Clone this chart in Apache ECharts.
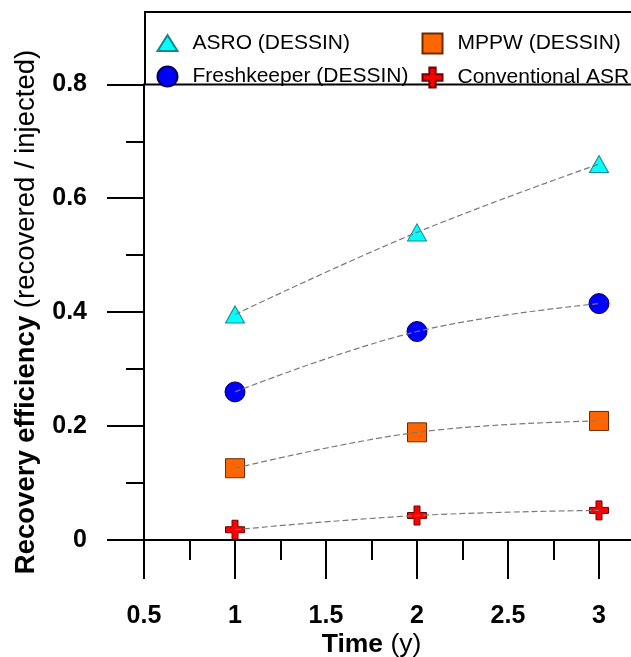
<!DOCTYPE html>
<html>
<head>
<meta charset="utf-8">
<script src="https://cdn.jsdelivr.net/npm/echarts@6/dist/echarts.min.js"></script>
<style>
html,body{margin:0;padding:0;background:#fff;}
#chart{width:631px;height:657px;}
</style>
</head>
<body>
<div id="chart"></div>
<script>
// ---- data ----
var time = [1, 2, 3];
var asro = [0.396, 0.540, 0.660];
var freshkeeper = [0.260, 0.366, 0.415];
var mppw = [0.126, 0.189, 0.209];
var conventional = [0.018, 0.043, 0.052];
var seriesNames = ['ASRO (DESSIN)', 'Freshkeeper (DESSIN)', 'MPPW (DESSIN)', 'Conventional ASR'];
var xTicks = [0.5, 1, 1.5, 2, 2.5, 3];
var yTicks = [0, 0.2, 0.4, 0.6, 0.8];

var FONT = 'Arial, "Liberation Sans", sans-serif';
var CROSS = 'path://M6.5,0 H12.5 V6.5 H19 V12.5 H12.5 V19 H6.5 V12.5 H0 V6.5 H6.5 Z';
var TRI = 'path://M9.5,0 L19,15 L0,15 Z';

function pairs(ys) { return time.map(function (t, i) { return [t, ys[i]]; }); }

var styles = [
  { data: asro, symbol: 'triangle', size: [19, 17], color: '#00FFFF', border: '#138a8a' },
  { data: freshkeeper, symbol: 'circle', size: 20, color: '#0000FF', border: '#00005a' },
  { data: mppw, symbol: 'rect', size: 19, color: '#FF6600', border: '#6b2a00' },
  { data: conventional, symbol: CROSS, size: 19, color: '#FF0000', border: '#700000' }
];

var series = [];
styles.forEach(function (s, i) {
  series.push({
    name: seriesNames[i],
    type: 'scatter',
    data: pairs(s.data),
    symbol: s.symbol,
    symbolSize: s.size,
    itemStyle: { color: s.color, borderColor: s.border, borderWidth: 1, opacity: 1 },
    z: 2
  });
});
styles.forEach(function (s, i) {
  series.push({
    name: seriesNames[i] + ' fit',
    type: 'line',
    data: pairs(s.data),
    smooth: 0.4,
    showSymbol: false,
    lineStyle: { color: '#7a7a7a', width: 1.2, type: [6, 3] },
    z: 3,
    silent: true
  });
});

var chart = echarts.init(document.getElementById('chart'), null, { renderer: 'canvas' });
var legendText = { fontFamily: FONT, fontSize: 21, color: '#000', padding: [0, 0, 0, 10] };
chart.setOption({
  animation: false,
  backgroundColor: '#fff',
  textStyle: { fontFamily: FONT },
  grid: { left: 144, width: 546, top: 84.3, bottom: 117, containLabel: false, outerBoundsMode: 'none' },
  xAxis: {
    type: 'value',
    min: 0.5, max: 3.5, interval: 0.5,
    axisLine: { show: true, onZero: false, lineStyle: { color: '#000', width: 2 } },
    axisTick: { show: true, inside: false, length: 39, lineStyle: { color: '#000', width: 2 } },
    minorTick: { show: true, splitNumber: 2, length: 20, lineStyle: { color: '#000', width: 2 } },
    splitLine: { show: false },
    axisLabel: {
      margin: 64, fontSize: 25, fontWeight: 'bold', color: '#000', fontFamily: FONT,
      showMaxLabel: false,
      formatter: function (v) {
        for (var i = 0; i < xTicks.length; i++) { if (Math.abs(xTicks[i] - v) < 1e-6) return String(xTicks[i]); }
        return '';
      }
    }
  },
  yAxis: {
    type: 'value',
    min: 0, max: 0.8, interval: 0.2,
    axisLine: { show: true, onZero: false, lineStyle: { color: '#000', width: 2 } },
    axisTick: { show: true, inside: false, length: 37, lineStyle: { color: '#000', width: 2 } },
    minorTick: { show: true, splitNumber: 2, length: 18, lineStyle: { color: '#000', width: 2 } },
    splitLine: { show: false },
    axisLabel: {
      margin: 57, fontSize: 25, fontWeight: 'bold', color: '#000', fontFamily: FONT,
      formatter: function (v) {
        for (var i = 0; i < yTicks.length; i++) { if (Math.abs(yTicks[i] - v) < 1e-6) return String(yTicks[i]); }
        return '';
      }
    }
  },
  legend: [
    {
      orient: 'vertical', left: 151.5, top: 27.5, itemWidth: 20, itemHeight: 20, itemGap: 12,
      data: [{ name: seriesNames[0], icon: TRI }, { name: seriesNames[1], icon: 'circle' }],
      textStyle: legendText, selectedMode: false
    },
    {
      orient: 'vertical', left: 416.5, top: 27.5, itemWidth: 20, itemHeight: 20, itemGap: 12,
      data: [{ name: seriesNames[2], icon: 'rect' }, { name: seriesNames[3], icon: CROSS }],
      textStyle: legendText, selectedMode: false
    }
  ],
  graphic: [
    {
      type: 'rect', z: 1,
      shape: { x: 145, y: 12, width: 520, height: 72.5 },
      style: { fill: '#fff', stroke: '#000', lineWidth: 2 }
    },
    {
      type: 'text', z: 5,
      x: 371.5, y: 645,
      style: {
        text: '{b|Time }{r|(y)}',
        align: 'center', verticalAlign: 'middle',
        rich: {
          b: { fontFamily: FONT, fontSize: 26.5, fontWeight: 'bold', fill: '#000' },
          r: { fontFamily: FONT, fontSize: 26.5, fontWeight: 'normal', fill: '#000' }
        }
      }
    },
    {
      type: 'text', z: 5,
      x: 26, y: 312, rotation: Math.PI / 2,
      style: {
        text: '{b|Recovery efficiency }{r|(recovered / injected)}',
        align: 'center', verticalAlign: 'middle',
        rich: {
          b: { fontFamily: FONT, fontSize: 27.5, fontWeight: 'bold', fill: '#000' },
          r: { fontFamily: FONT, fontSize: 27.5, fontWeight: 'normal', fill: '#000' }
        }
      }
    }
  ],
  series: series
});
</script>
</body>
</html>
